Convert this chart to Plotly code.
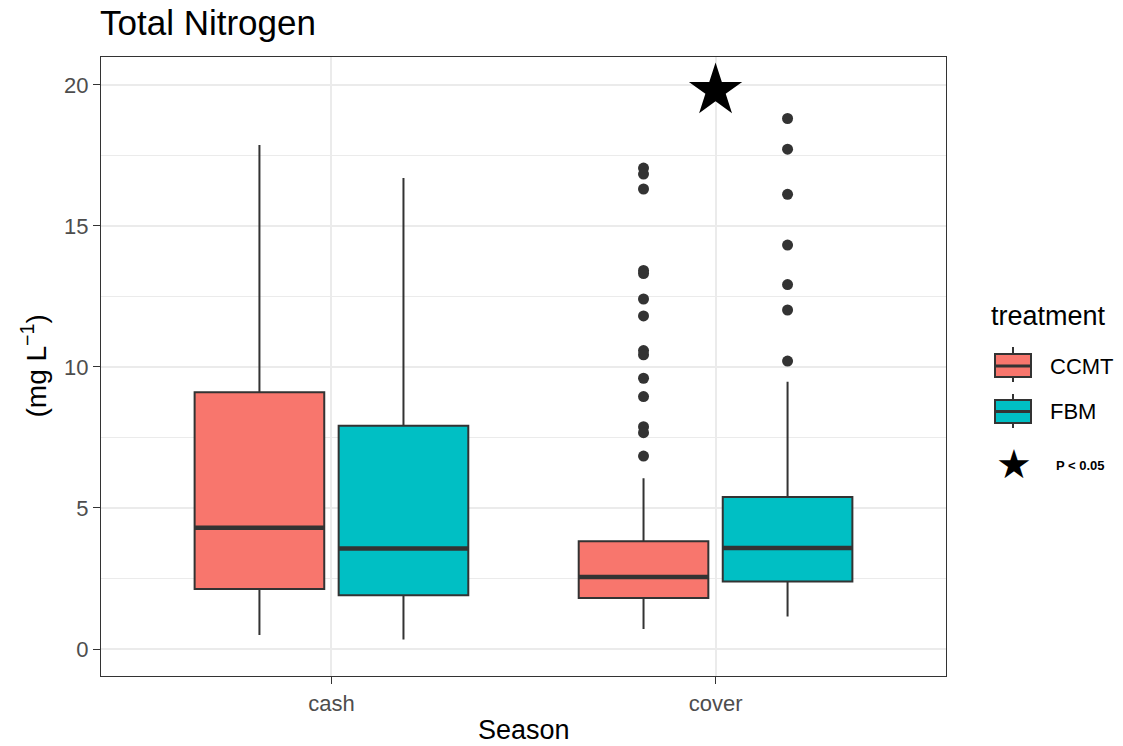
import plotly.graph_objects as go

# ---------------- data ----------------
seasons = ["cash", "cover"]
treatments = ["CCMT", "FBM"]
fill_colors = {"CCMT": "#F8766D", "FBM": "#00BFC4"}

q1 = {"CCMT": [2.13, 1.81], "FBM": [1.91, 2.39]}
median = {"CCMT": [4.30, 2.55], "FBM": [3.56, 3.58]}
q3 = {"CCMT": [9.10, 3.82], "FBM": [7.92, 5.39]}
lower_whisker = {"CCMT": [0.50, 0.71], "FBM": [0.34, 1.15]}
upper_whisker = {"CCMT": [17.87, 6.05], "FBM": [16.70, 9.48]}

outliers = {
    ("CCMT", "cover"): [17.05, 16.84, 16.31, 13.42, 13.31, 12.41, 11.81,
                        10.58, 10.43, 9.60, 8.95, 7.88, 7.67, 6.84],
    ("FBM", "cover"): [18.81, 17.72, 16.12, 14.32, 12.92, 12.02, 10.21],
}

signif_season = ["cover"]
signif_y = [19.8]

y_ticks = [0, 5, 10, 15, 20]
y_minor = [2.5, 7.5, 12.5, 17.5]
y_range = [-0.957, 20.99]

# ---------------- layout helpers ----------------
W, H = 1123, 746
L, R, T, B = 101, 946, 57, 676          # panel in pixels
dodge = 0.375                           # dodge slot width
box_w = dodge * 0.9                     # box width with padding
offsets = {"CCMT": -dodge / 2, "FBM": dodge / 2}
line_col = "#333333"
FONT = "Liberation Sans, Arial, sans-serif"


def px_x(p):
    return (p - L) / (R - L)


def px_y(p):
    return (B - p) / (B - T)


fig = go.Figure()

for tr in treatments:
    xs = [i + offsets[tr] for i in range(len(seasons))]
    fig.add_trace(go.Box(
        x=xs, q1=q1[tr], median=median[tr], q3=q3[tr],
        lowerfence=lower_whisker[tr], upperfence=upper_whisker[tr],
        width=box_w, fillcolor=fill_colors[tr],
        line=dict(color=line_col, width=2), whiskerwidth=0,
        boxpoints=False, name=tr, showlegend=False, hoverinfo="skip",
    ))
    # thicker median line (ggplot fatten)
    mx, my = [], []
    for x, m in zip(xs, median[tr]):
        mx += [x - box_w / 2, x + box_w / 2, None]
        my += [m, m, None]
    fig.add_trace(go.Scatter(x=mx, y=my, mode="lines",
                             line=dict(color=line_col, width=4.5),
                             showlegend=False, hoverinfo="skip"))

for (tr, season), vals in outliers.items():
    xi = seasons.index(season) + offsets[tr]
    fig.add_trace(go.Scatter(
        x=[xi] * len(vals), y=vals, mode="markers",
        marker=dict(color=line_col, size=11, line=dict(width=0)),
        showlegend=False, hoverinfo="skip"))

fig.add_trace(go.Scatter(
    x=[seasons.index(s) for s in signif_season], y=signif_y, mode="markers",
    marker=dict(symbol="star", color="black", size=40, line=dict(width=0)),
    showlegend=False, hoverinfo="skip"))

# ---------------- manual legend ----------------
shapes = []
annotations = []
legend_rows = {"CCMT": (354, 377, 347, 382, 366), "FBM": (400, 423, 394, 428, 411.5)}
kx0, kx1, kxm = 995, 1031, 1013
for tr in treatments:
    yb0, yb1, yw0, yw1, ym = legend_rows[tr]
    shapes.append(dict(type="line", xref="paper", yref="paper",
                       x0=px_x(kxm), x1=px_x(kxm), y0=px_y(yw0), y1=px_y(yw1),
                       line=dict(color=line_col, width=2)))
    shapes.append(dict(type="rect", xref="paper", yref="paper",
                       x0=px_x(kx0), x1=px_x(kx1), y0=px_y(yb0), y1=px_y(yb1),
                       fillcolor=fill_colors[tr], line=dict(color=line_col, width=2)))
    shapes.append(dict(type="line", xref="paper", yref="paper",
                       x0=px_x(kx0), x1=px_x(kx1), y0=px_y(ym), y1=px_y(ym),
                       line=dict(color=line_col, width=3)))
    annotations.append(dict(text=tr, xref="paper", yref="paper",
                            x=px_x(1048), y=px_y(ym), xanchor="left", yanchor="middle",
                            showarrow=False, font=dict(size=22, color="black", family=FONT)))

annotations.append(dict(text="treatment", xref="paper", yref="paper",
                        x=px_x(989), y=px_y(316), xanchor="left", yanchor="middle",
                        showarrow=False, font=dict(size=27, color="black", family=FONT)))
annotations.append(dict(text="★", xref="paper", yref="paper",
                        x=px_x(1014), y=px_y(464), xanchor="center", yanchor="middle",
                        showarrow=False, font=dict(size=40, color="black", family="DejaVu Sans")))
annotations.append(dict(text="<b>P &lt; 0.05</b>", xref="paper", yref="paper",
                        x=px_x(1054), y=px_y(465), xanchor="left", yanchor="middle",
                        showarrow=False, font=dict(size=13, color="black", family=FONT)))

# axis titles
annotations.append(dict(text="Season", xref="paper", yref="paper",
                        x=0.5, y=px_y(730), xanchor="center", yanchor="middle",
                        showarrow=False, font=dict(size=27, color="black", family=FONT)))
annotations.append(dict(text="(mg L<sup>−1</sup>)", xref="paper", yref="paper",
                        x=px_x(34), y=0.5, xanchor="center", yanchor="middle", textangle=-90,
                        showarrow=False, font=dict(size=28, color="black", family=FONT)))

axis_common = dict(
    showgrid=True, gridcolor="#EBEBEB", gridwidth=2, zeroline=False,
    showline=True, mirror=True, linecolor=line_col, linewidth=1.3,
    ticks="outside", ticklen=7, tickwidth=1.3, tickcolor=line_col,
    tickfont=dict(size=22, color="#4D4D4D", family=FONT),
)

fig.update_layout(
    width=W, height=H,
    margin=dict(l=L, r=W - R, t=T, b=H - B, autoexpand=False),
    paper_bgcolor="white", plot_bgcolor="white",
    font=dict(family=FONT),
    title=dict(text="Total Nitrogen", x=(L - 1) / W, xanchor="left", xref="container",
               y=1 - 23 / H, yanchor="middle", yref="container",
               font=dict(size=35, color="black", family=FONT)),
    xaxis=dict(range=[-0.6, 1.6], tickvals=list(range(len(seasons))), ticktext=seasons,
               **axis_common),
    yaxis=dict(range=y_range, tickvals=y_ticks,
               minor=dict(tickvals=y_minor, showgrid=True, gridcolor="#EBEBEB",
                          gridwidth=1, ticks=""),
               **axis_common),
    shapes=shapes, annotations=annotations,
    showlegend=False,
)

fig.write_html("out.html", config={"displayModeBar": False},
               post_script="document.body.style.margin='0';")
